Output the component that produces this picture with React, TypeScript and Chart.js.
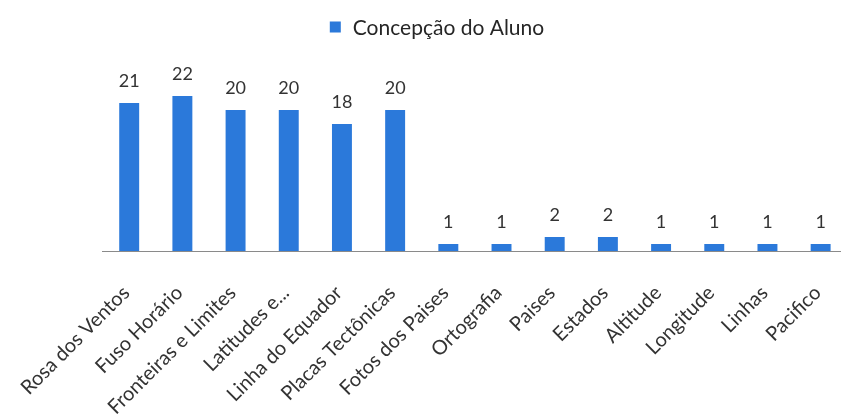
import React, { useEffect, useRef } from "react";
import { Chart, registerables } from "chart.js";

Chart.register(...registerables);

const categories = [
  "Rosa dos Ventos",
  "Fuso Horário",
  "Fronteiras e Limites",
  "Latitudes e...",
  "Linha do Equador",
  "Placas Tectônicas",
  "Fotos dos Paises",
  "Ortografia",
  "Paises",
  "Estados",
  "Altitude",
  "Longitude",
  "Linhas",
  "Pacifico",
];

const seriesName = "Concepção do Aluno";
const seriesValues = [21, 22, 20, 20, 18, 20, 1, 1, 2, 2, 1, 1, 1, 1];

const BAR_COLOR = "#2B79DA";
const FONT = "Lato, 'Open Sans', sans-serif";
const LEGEND_CENTER_X = 437;
const LEGEND_CENTER_Y = 28;

const valueLabels = {
  id: "valueLabels",
  afterDatasetsDraw(chart: any) {
    const ctx = chart.ctx;
    const meta = chart.getDatasetMeta(0);
    ctx.save();
    ctx.font = `18px ${FONT}`;
    ctx.fillStyle = "#333333";
    ctx.textAlign = "center";
    ctx.textBaseline = "alphabetic";
    meta.data.forEach((el: any, i: number) => {
      ctx.fillText(String(seriesValues[i]), el.x, el.y - 16);
    });
    ctx.restore();
  },
};

const customLegend = {
  id: "customLegend",
  afterDraw(chart: any) {
    const ctx = chart.ctx;
    const ds = chart.data.datasets[0];
    ctx.save();
    ctx.font = `21px ${FONT}`;
    const text = ds.label;
    const tw = ctx.measureText(text).width;
    const box = 11;
    const gap = 12;
    const total = box + gap + tw;
    const x0 = LEGEND_CENTER_X - total / 2;
    ctx.fillStyle = ds.backgroundColor;
    ctx.fillRect(x0, LEGEND_CENTER_Y - box / 2 - 1, box, box);
    ctx.fillStyle = "#262626";
    ctx.textAlign = "left";
    ctx.textBaseline = "middle";
    ctx.fillText(text, x0 + box + gap, LEGEND_CENTER_Y);
    ctx.restore();
  },
};

export default function App() {
  const ref = useRef<HTMLCanvasElement | null>(null);

  useEffect(() => {
    if (!ref.current) return;
    const chart = new Chart(ref.current, {
      type: "bar",
      data: {
        labels: categories,
        datasets: [
          {
            label: seriesName,
            data: seriesValues,
            backgroundColor: BAR_COLOR,
            borderWidth: 0,
            barPercentage: 0.375,
            categoryPercentage: 1,
          },
        ],
      },
      options: {
        responsive: false,
        animation: false,
        layout: { padding: { left: 102.6, right: 10.8, top: 53.6, bottom: 0 } },
        plugins: {
          legend: { display: false },
          tooltip: { enabled: false },
        },
        scales: {
          x: {
            grid: { display: false },
            border: { display: true, color: "#8a8a8a", width: 1 },
            ticks: {
              autoSkip: false,
              minRotation: 45,
              maxRotation: 45,
              labelOffset: -3,
              padding: 22,
              color: "#333333",
              font: { family: FONT, size: 20 },
            },
            afterFit: (scale: any) => {
              scale.height = 168;
            },
          },
          y: {
            display: false,
            min: 0,
            max: 28,
          },
        },
      },
      plugins: [valueLabels, customLegend],
    });
    return () => chart.destroy();
  }, []);

  return (
    <div
      style={{
        position: "fixed",
        left: 0,
        top: 0,
        width: 841,
        height: 419,
        overflow: "hidden",
        background: "#ffffff",
      }}
    >
      <canvas ref={ref} width={860} height={419} style={{ display: "block" }} />
    </div>
  );
}
